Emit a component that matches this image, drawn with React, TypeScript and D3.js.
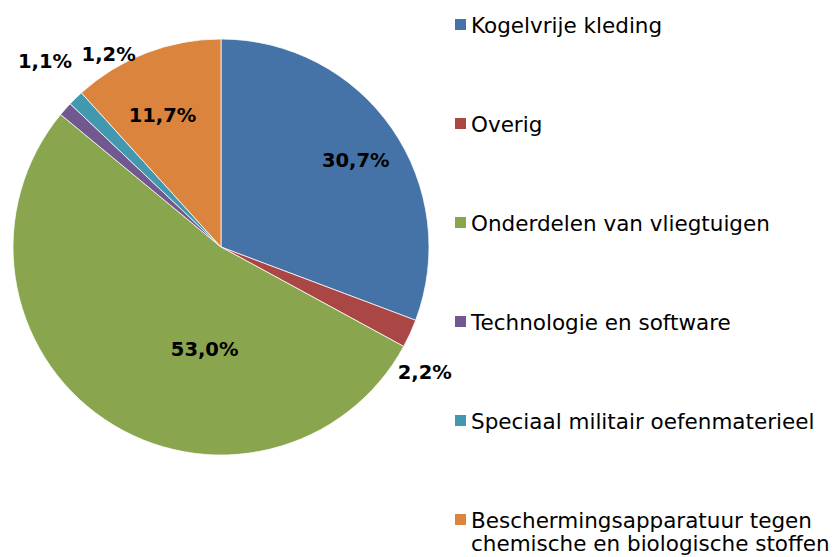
import React from "react";
import * as d3 from "d3";

const categories = [
  "Kogelvrije kleding",
  "Overig",
  "Onderdelen van vliegtuigen",
  "Technologie en software",
  "Speciaal militair oefenmaterieel",
  "Beschermingsapparatuur tegen chemische en biologische stoffen",
];
const shares = [30.7, 2.2, 53.0, 1.1, 1.2, 11.7];
const colors = ["#4572A7", "#AA4643", "#89A54E", "#71588F", "#4198AF", "#DB843D"];

// label placement: angle nudge (deg) and radius factor relative to pie radius
const labelNudge = [2, 7, -25, 5, 14, -3];
const labelRadius = [0.77, 1.15, 0.5, 1.23, 1.07, 0.69];

const legendLines = [
  ["Kogelvrije kleding"],
  ["Overig"],
  ["Onderdelen van vliegtuigen"],
  ["Technologie en software"],
  ["Speciaal militair oefenmaterieel"],
  ["Beschermingsapparatuur tegen", "chemische en biologische stoffen"],
];

const width = 840;
const height = 557;
const cx = 221;
const cy = 247;
const radius = 208;
const font = "'DejaVu Sans', sans-serif";

const fmt = (v: number) => v.toFixed(1).replace(".", ",") + "%";

export default function App() {
  const pie = d3.pie<number>().sort(null).value((d) => d);
  const arcs = pie(shares);
  const arc = d3.arc<d3.PieArcDatum<number>>().innerRadius(0).outerRadius(radius);

  const legendY = d3.scalePoint<number>().domain(d3.range(categories.length)).range([25, 520]);

  return (
    <svg
      width={width}
      height={height}
      style={{ position: "absolute", left: 0, top: 0, background: "#fff" }}
    >
      <g transform={`translate(${cx},${cy})`}>
        {arcs.map((a, i) => (
          <path key={i} d={arc(a) || ""} fill={colors[i]} stroke="#fff" strokeWidth={0.75} />
        ))}
        {arcs.map((a, i) => {
          const mid = (a.startAngle + a.endAngle) / 2 + (labelNudge[i] * Math.PI) / 180;
          const [x, y] = d3.pointRadial(mid, radius * labelRadius[i]);
          return (
            <text
              key={i}
              x={x}
              y={y}
              textAnchor="middle"
              dominantBaseline="central"
              fontFamily={font}
              fontWeight="bold"
              fontSize={19.5}
              fill="#000"
            >
              {fmt(shares[i])}
            </text>
          );
        })}
      </g>
      <g>
        {categories.map((c, i) => {
          const y = legendY(i) as number;
          return (
            <g key={c}>
              <rect x={455} y={y - 6} width={11} height={11} fill={colors[i]} />
              {legendLines[i].map((line, j) => (
                <text
                  key={j}
                  x={471}
                  y={y + j * 23}
                  dominantBaseline="central"
                  fontFamily={font}
                  fontSize={21.5}
                  fill="#000"
                >
                  {line}
                </text>
              ))}
            </g>
          );
        })}
      </g>
    </svg>
  );
}
